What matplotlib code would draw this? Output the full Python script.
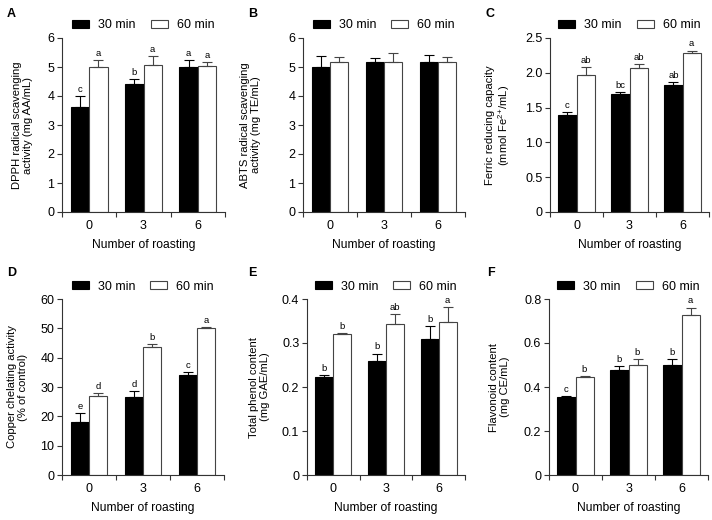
import matplotlib
matplotlib.use("Agg")
import matplotlib.pyplot as plt
import numpy as np
from matplotlib.ticker import FuncFormatter

plt.rcParams['font.family'] = ['Liberation Sans', 'DejaVu Sans']
plt.rcParams['mathtext.fontset'] = 'custom'
plt.rcParams['mathtext.rm'] = 'Liberation Sans'
plt.rcParams['mathtext.it'] = 'Liberation Sans'

groups = ['0', '3', '6']
series_names = ['30 min', '60 min']

# A: DPPH
dpph_30 = [3.62, 4.43, 4.99]
dpph_30_err = [0.37, 0.16, 0.26]
dpph_60 = [4.99, 5.06, 5.03]
dpph_60_err = [0.24, 0.33, 0.14]
dpph_30_sig = ['c', 'b', 'a']
dpph_60_sig = ['a', 'a', 'a']

# B: ABTS
abts_30 = [5.01, 5.16, 5.16]
abts_30_err = [0.36, 0.16, 0.24]
abts_60 = [5.18, 5.18, 5.18]
abts_60_err = [0.18, 0.31, 0.16]
abts_30_sig = ['', '', '']
abts_60_sig = ['', '', '']

# C: ferric reducing
frap_30 = [1.40, 1.69, 1.83]
frap_30_err = [0.04, 0.03, 0.04]
frap_60 = [1.97, 2.07, 2.29]
frap_60_err = [0.11, 0.06, 0.03]
frap_30_sig = ['c', 'bc', 'ab']
frap_60_sig = ['ab', 'ab', 'a']

# D: copper chelating
cu_30 = [18.2, 26.5, 34.0]
cu_30_err = [2.8, 2.1, 1.2]
cu_60 = [26.8, 43.6, 50.0]
cu_60_err = [1.0, 1.1, 0.3]
cu_30_sig = ['e', 'd', 'c']
cu_60_sig = ['d', 'b', 'a']

# E: total phenol
tp_30 = [0.222, 0.258, 0.308]
tp_30_err = [0.006, 0.018, 0.030]
tp_60 = [0.321, 0.343, 0.348]
tp_60_err = [0.002, 0.023, 0.034]
tp_30_sig = ['b', 'b', 'b']
tp_60_sig = ['b', 'ab', 'a']

# F: flavonoid
fl_30 = [0.355, 0.477, 0.498]
fl_30_err = [0.005, 0.017, 0.031]
fl_60 = [0.446, 0.500, 0.727]
fl_60_err = [0.002, 0.026, 0.034]
fl_30_sig = ['c', 'b', 'b']
fl_60_sig = ['b', 'b', 'a']

panels = [
    ('A', 'DPPH radical scavenging\nactivity (mg AA/mL)', dpph_30, dpph_30_err, dpph_60, dpph_60_err,
     dpph_30_sig, dpph_60_sig, 6, 1),
    ('B', 'ABTS radical scavenging\nactivity (mg TE/mL)', abts_30, abts_30_err, abts_60, abts_60_err,
     abts_30_sig, abts_60_sig, 6, 1),
    ('C', 'Ferric reducing capacity\n(mmol Fe$^{2}$$^{+}$/mL)', frap_30, frap_30_err, frap_60,
     frap_60_err, frap_30_sig, frap_60_sig, 2.5, 0.5),
    ('D', 'Copper chelating activity\n(% of control)', cu_30, cu_30_err, cu_60, cu_60_err,
     cu_30_sig, cu_60_sig, 60, 10),
    ('E', 'Total phenol content\n(mg GAE/mL)', tp_30, tp_30_err, tp_60, tp_60_err,
     tp_30_sig, tp_60_sig, 0.4, 0.1),
    ('F', 'Flavonoid content\n(mg CE/mL)', fl_30, fl_30_err, fl_60, fl_60_err,
     fl_30_sig, fl_60_sig, 0.8, 0.2),
]

# axes boxes in pixels (left, top, right, bottom) of a 712x520 figure
boxes = [(62, 38, 225, 212), (303, 38, 465, 212), (550, 38, 709, 212),
         (62, 299, 224, 475), (307, 299, 465, 475), (549, 299, 708, 475)]
letter_pos = [(7, 14), (248, 14), (486, 14), (7, 273), (248, 273), (487, 273)]
ylabel_right = [33, 261, 512, 28, 270, 510]

W, H = 712, 520
fig = plt.figure(figsize=(7.12, 5.2), dpi=100)

spine_col = '#333333'
edge_col = '#444444'
x = np.arange(len(groups))
bw = 0.34


def make_fmt(step):
    def fmt(v, pos):
        if abs(v) < 1e-9:
            return '0'
        if step >= 1:
            return '%d' % round(v)
        return '%.1f' % v
    return fmt


for (lab, ylab, v30, e30, v60, e60, s30, s60, ymax, step), box, lp, yr in zip(
        panels, boxes, letter_pos, ylabel_right):
    l, t, r, b = box
    ax = fig.add_axes([l / W, 1 - b / H, (r - l) / W, (b - t) / H])
    ax.bar(x - bw / 2, v30, bw, color='black', edgecolor='black', linewidth=0.8, label=series_names[0])
    ax.bar(x + bw / 2, v60, bw, color='white', edgecolor=edge_col, linewidth=0.8, label=series_names[1])
    ax.errorbar(x - bw / 2, v30, yerr=[np.zeros(3), e30], fmt='none', ecolor='black',
                elinewidth=0.8, capsize=3.5, capthick=0.8)
    ax.errorbar(x + bw / 2, v60, yerr=[np.zeros(3), e60], fmt='none', ecolor=edge_col,
                elinewidth=0.8, capsize=3.5, capthick=0.8)
    for xi, v, e, s in zip(x - bw / 2, v30, e30, s30):
        if s:
            ax.annotate(s, (xi, v + e), xytext=(0, 1.5), textcoords='offset points',
                        ha='center', va='bottom', fontsize=6.8)
    for xi, v, e, s in zip(x + bw / 2, v60, e60, s60):
        if s:
            ax.annotate(s, (xi, v + e), xytext=(0, 1.5), textcoords='offset points',
                        ha='center', va='bottom', fontsize=6.8)

    ax.set_xlim(-0.5, 2.5)
    ax.set_ylim(0, ymax)
    ax.set_yticks(np.arange(0, ymax + step / 2, step))
    ax.yaxis.set_major_formatter(FuncFormatter(make_fmt(step)))
    ax.set_xticks(x)
    ax.set_xticklabels(groups)
    ax.set_xticks([-0.5, 0.5, 1.5, 2.5], minor=True)
    ax.tick_params(axis='x', which='major', length=0, pad=6, labelsize=9)
    ax.tick_params(axis='x', which='minor', length=3.5, width=0.8, color=spine_col)
    ax.tick_params(axis='y', length=3.5, width=0.8, color=spine_col, pad=2, labelsize=9)
    for sp in ['top', 'right']:
        ax.spines[sp].set_visible(False)
    for sp in ['left', 'bottom']:
        ax.spines[sp].set_color(spine_col)
        ax.spines[sp].set_linewidth(0.8)
    ax.set_xlabel('Number of roasting', fontsize=8.7, labelpad=5)
    ax.set_ylabel(ylab, fontsize=8.1, linespacing=1.1)
    ax.yaxis.set_label_coords((yr - l) / (r - l), 0.5)
    ax.legend(loc='center', bbox_to_anchor=(0.5, 1 + 12.5 / (b - t)), ncol=2, frameon=False,
              fontsize=9, handlelength=1.36, handleheight=0.65, columnspacing=1.2,
              handletextpad=0.72, borderaxespad=0)
    fig.text(lp[0] / W, 1 - lp[1] / H, lab, fontsize=9, fontweight='bold', va='center', ha='left')

fig.savefig('out.png', dpi=100)
